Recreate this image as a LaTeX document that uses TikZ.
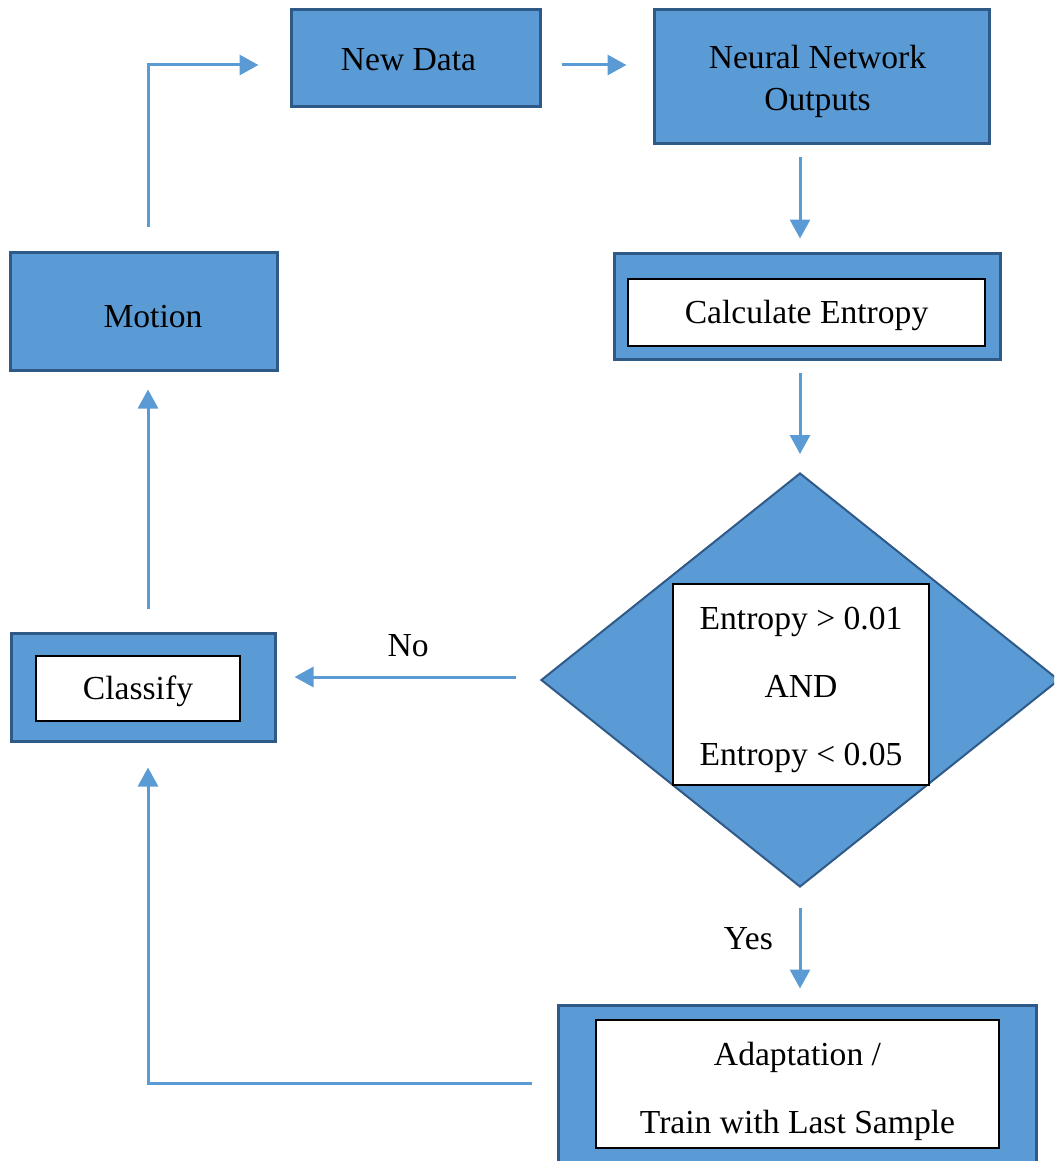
\documentclass[tikz,border=0pt]{standalone}
\usepackage{fontspec}
\setmainfont{Liberation Serif}
\usepackage{tikz}
\usetikzlibrary{arrows.meta, shapes.geometric}
\definecolor{boxfill}{HTML}{5B9BD5}
\definecolor{boxedge}{HTML}{2F5A88}
\definecolor{flowblue}{HTML}{5B9BD5}
% Text etwas tiefer setzen, ohne die Boxgroesse zu aendern
\newcommand{\runter}[2][2.5pt]{\raisebox{-#1}[\height][\depth]{#2}}

\begin{document}
\begin{tikzpicture}[x=0.5pt, y=-0.5pt, >={Triangle[length=9.5pt, width=10pt]},
    font=\fontsize{16.8}{21}\selectfont,
    box/.style={draw=boxedge, fill=boxfill, line width=1.5pt, inner sep=0pt, align=center},
    innerbox/.style={draw=black, fill=white, line width=0.75pt, inner sep=0pt, align=center},
    wide/.style={font=\fontsize{16.8}{34}\selectfont},
    flow/.style={->, draw=flowblue, line width=1.5pt}]

    % --- Rahmen ---
    \useasboundingbox (0,0) rectangle (1054,1161);
    \clip (0,0) rectangle (1054,1161);

    % --- Obere Reihe ---
    \node[box, minimum width=124.5pt, minimum height=48.5pt] (newdata) at (415.5,58.5) {\runter[0.5pt]{New Data}\hspace*{7pt}};
    \node[box, minimum width=167.5pt, minimum height=66.5pt] (nnout) at (821.5,76.5) {\runter{Neural Network}\hspace*{4pt}\\\runter{Outputs}\hspace*{4pt}};

    % --- Entropie ---
    \node[box, minimum width=193pt, minimum height=53pt] (calc) at (807,306) {};
    \node[innerbox, minimum width=178.5pt, minimum height=33.5pt] (calctxt) at (806.5,312.5) {\runter[1.5pt]{Calculate Entropy}};

    % --- Entscheidung ---
    \node[box, diamond, line width=1pt, minimum width=259pt, minimum height=207pt] (dec) at (800,680) {};
    \node[innerbox, wide, minimum width=128pt, minimum height=100.5pt] (dectxt) at (801,684.5)
        {\runter{Entropy > 0.01}\\\runter{AND}\\\runter{Entropy < 0.05}};

    % --- Linke Spalte ---
    \node[box, minimum width=133.5pt, minimum height=59pt] (motion) at (143.5,311) {\hspace*{9.5pt}\runter[3pt]{Motion}};
    \node[box, minimum width=132pt, minimum height=54pt] (classify) at (143,687) {};
    \node[innerbox, minimum width=102pt, minimum height=32.5pt] (classtxt) at (138,688.5) {\runter[1.5pt]{Classify}};

    % --- Adaption ---
    \node[box, minimum width=239pt, minimum height=85pt] (adapt) at (797,1090) {};
    \node[innerbox, wide, minimum width=201.5pt, minimum height=64pt] (adapttxt) at (797.5,1084)
        {\runter[3.5pt]{Adaptation /}\\\runter[3.5pt]{Train with Last Sample}};

    % --- Pfeile ---
    \draw[flow, shorten <=12pt, shorten >=15.5pt] ([xshift=2.25pt]motion.north) |- ([yshift=-3.25pt]newdata.west);
    \draw[flow, shorten <=10pt, shorten >=13pt] ([yshift=-3.25pt]newdata.east) -- ([yshift=-3.25pt]newdata.east -| nnout.west);
    \draw[flow, shorten <=6pt, shorten >=6.5pt] ([xshift=-10.75pt]nnout.south) -- ([xshift=-10.75pt]nnout.south |- calc.north);
    \draw[flow, shorten <=6pt, shorten >=9pt] (calc.south -| dec.north) -- (dec.north);
    \draw[flow, shorten <=12pt, shorten >=9pt] ([yshift=1.5pt]dec.west) -- ([yshift=1.5pt]dec.west -| classify.east)
        node[midway, above=6pt, black] {No};
    \draw[flow, shorten <=10pt, shorten >=7.5pt] (dec.south) -- (dec.south |- adapt.north)
        node[midway, left=9.5pt, yshift=5pt, black] {\runter[1.5pt]{Yes}};
    \draw[flow, shorten <=12.5pt, shorten >=12.5pt] ([yshift=3.5pt]adapt.west) -| ([xshift=2.5pt]classify.south);
    \draw[flow, shorten <=11.5pt, shorten >=9pt] ([xshift=2.5pt]classify.north) -- ([xshift=2.5pt]classify.north |- motion.south);

\end{tikzpicture}
\end{document}
